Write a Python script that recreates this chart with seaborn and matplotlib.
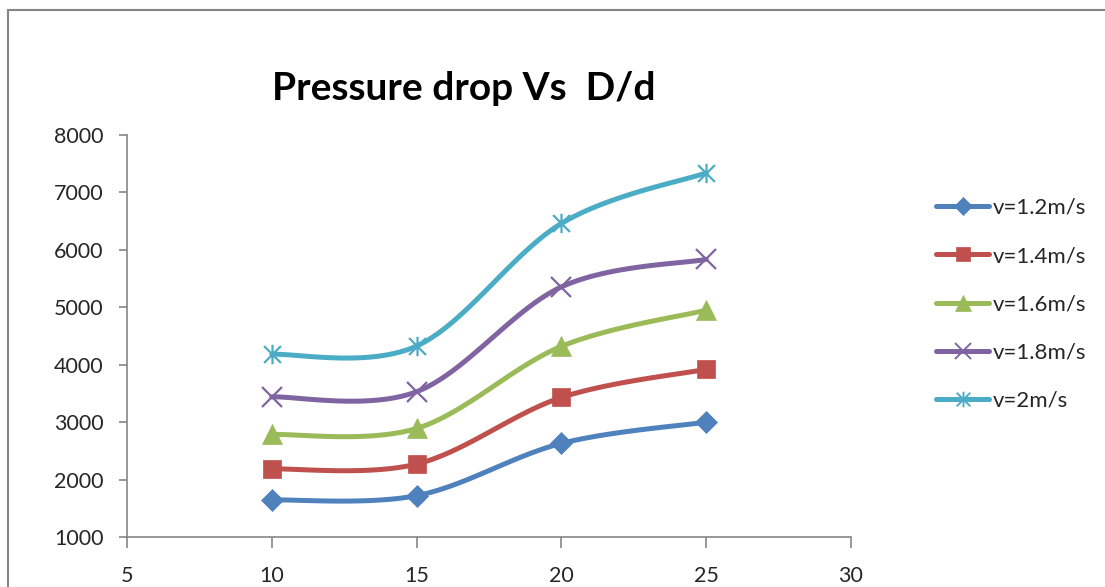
import numpy as np
import pandas as pd
import matplotlib
matplotlib.use('Agg')
import matplotlib.pyplot as plt
import seaborn as sns
from matplotlib.lines import Line2D
from matplotlib.path import Path
from matplotlib.patches import Rectangle

# Données
ratio_dd = [10, 15, 20, 25]
labels = ['v=1.2m/s', 'v=1.4m/s', 'v=1.6m/s', 'v=1.8m/s', 'v=2m/s']
v12 = [1645, 1720, 2630, 3000]
v14 = [2185, 2270, 3430, 3920]
v16 = [2785, 2890, 4320, 4950]
v18 = [3440, 3530, 5355, 5835]
v20 = [4180, 4325, 6460, 7340]
series = [v12, v14, v16, v18, v20]

colors = ['#4F81BD', '#C0504D', '#9BBB59', '#8064A2', '#4BACC6']

# marqueur étoile façon Excel (x + barre verticale)
star = Path([(-1, -1), (1, 1), (-1, 1), (1, -1), (0, -1.15), (0, 1.15)],
            [Path.MOVETO, Path.LINETO, Path.MOVETO, Path.LINETO, Path.MOVETO, Path.LINETO])
markers = ['D', 's', '^', 'x', star]
msizes = [11, 13, 14, 14, 14]


def lissage(x, y, n=40):
    # courbe lissée (Bezier type Catmull-Rom, comme Excel)
    x = np.asarray(x, float)
    y = np.asarray(y, float)
    px = np.concatenate([[x[0]], x, [x[-1]]])
    py = np.concatenate([[y[0]], y, [y[-1]]])
    xs, ys = [], []
    t = np.linspace(0, 1, n)
    for i in range(1, len(px) - 2):
        p0 = np.array([px[i], py[i]])
        p3 = np.array([px[i + 1], py[i + 1]])
        p1 = p0 + (np.array([px[i + 1], py[i + 1]]) - np.array([px[i - 1], py[i - 1]])) / 6
        p2 = p3 - (np.array([px[i + 2], py[i + 2]]) - np.array([px[i], py[i]])) / 6
        b = (np.outer((1 - t) ** 3, p0) + np.outer(3 * (1 - t) ** 2 * t, p1)
             + np.outer(3 * (1 - t) * t ** 2, p2) + np.outer(t ** 3, p3))
        xs.extend(b[:, 0])
        ys.extend(b[:, 1])
    return xs, ys


sns.set_style('white')
plt.rcParams['font.family'] = ['Lato', 'DejaVu Sans']

fig = plt.figure(figsize=(11.05, 5.87), dpi=100)
ax = fig.add_axes([127 / 1105, 1 - 537 / 587, (851 - 127) / 1105, (537 - 135) / 587])

frame = Rectangle((8 / 1105, -0.1), 1.2, 1 - 10 / 587 + 0.1, transform=fig.transFigure,
                  fill=False, edgecolor='#868686', linewidth=1.5, zorder=0)
fig.patches.append(frame)

for vals, lab, c, m, ms in zip(series, labels, colors, markers, msizes):
    sx, sy = lissage(ratio_dd, vals)
    df = pd.DataFrame({'x': sx, 'y': sy})
    sns.lineplot(data=df, x='x', y='y', color=c, linewidth=3.6, sort=False, ax=ax, zorder=2)
    ax.plot(ratio_dd, vals, linestyle='none', marker=m, markersize=ms, color=c,
            markeredgewidth=1.6 if (m == 'x' or m is star) else 0.5, zorder=3)

ax.set_xlim(5, 30)
ax.set_ylim(1000, 8000)
ax.set_xticks([5, 10, 15, 20, 25, 30])
ax.set_yticks(range(1000, 9000, 1000))
ax.set_xlabel('')
ax.set_ylabel('')
for s in ['top', 'right']:
    ax.spines[s].set_visible(False)
for s in ['left', 'bottom']:
    ax.spines[s].set_color('#868686')
    ax.spines[s].set_linewidth(1.2)
ax.tick_params(axis='y', direction='out', length=6, width=1.2, color='#868686', pad=11,
               labelsize=15.5, left=True)
ax.tick_params(axis='x', direction='out', length=8, width=1.2, color='#868686', pad=13,
               labelsize=15.5, bottom=True)

fig.text(464 / 1105, 1 - 89 / 587, 'Pressure drop Vs  D/d', ha='center', va='center',
         fontsize=28, fontweight='bold', color='black')

handles = [Line2D([0], [0], color=c, lw=3.6, marker=m, markersize=ms * 0.8,
                  markeredgewidth=1.4 if (m == 'x' or m is star) else 0.5)
           for c, m, ms in zip(colors, markers, msizes)]
fig.legend(handles, labels, loc='upper left', bbox_to_anchor=(927 / 1105, 1 - 189 / 587),
           frameon=False, fontsize=16, handlelength=2.4, handletextpad=0.15,
           labelspacing=1.27, borderaxespad=0)

fig.savefig('out.png', dpi=100)
